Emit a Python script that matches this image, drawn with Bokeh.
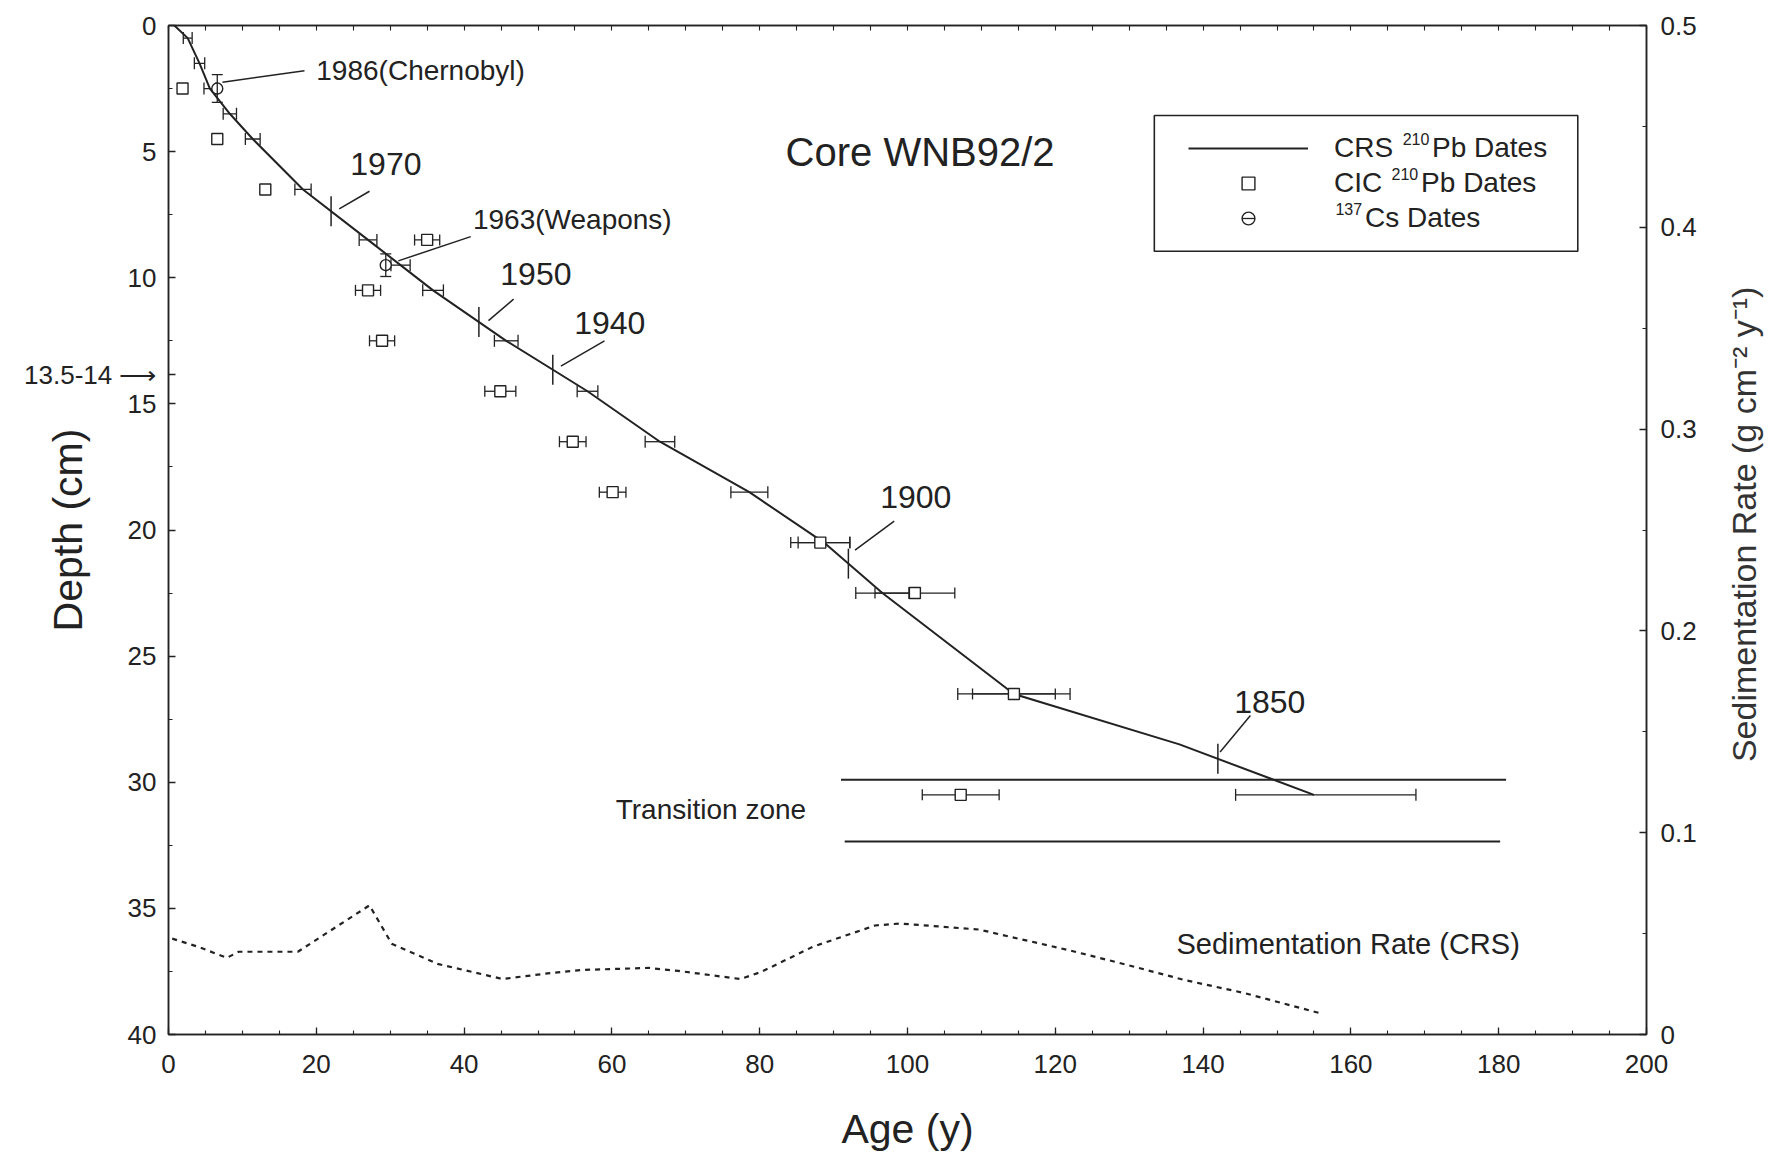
import numpy as np
from bokeh.plotting import figure
from bokeh.models import (Range1d, LinearAxis, FixedTicker, Whisker, TeeHead, ColumnDataSource,
                          Label, Legend, LegendItem, BoxAnnotation)
from bokeh.embed import file_html
from bokeh.resources import INLINE

# ---------------- data ----------------
CORE_YEAR = 1992

# CRS 210Pb dates (depth cm, age y, error bars)
crs_depth = [0.0, 0.5, 1.5, 2.5, 3.5, 4.5, 6.5, 8.5, 9.5, 10.5, 12.5, 14.5, 16.5, 18.5, 20.5, 22.5, 26.5, 28.5, 30.5]
crs_age = [0.8, 2.6, 4.2, 5.6, 8.3, 11.4, 18.2, 27.0, 31.4, 35.8, 45.7, 56.7, 66.5, 78.6, 88.7, 96.6, 114.4, 136.8, 155.0]
crs_err_lo = [0, 0.6, 0.7, 0.8, 0.9, 1.0, 1.1, 1.2, 1.3, 1.4, 1.6, 1.4, 2.0, 2.5, 3.5, 3.6, 7.6, 0, 10.6]
crs_err_hi = [0, 0.6, 0.7, 0.8, 0.9, 1.0, 1.1, 1.2, 1.3, 1.4, 1.6, 1.4, 2.0, 2.5, 3.5, 3.6, 7.6, 0, 13.8]

# CIC 210Pb dates
cic_depth = [2.5, 4.5, 6.5, 8.5, 10.5, 12.5, 14.5, 16.5, 18.5, 20.5, 22.5, 26.5, 30.5]
cic_age = [1.9, 6.6, 13.1, 35.0, 27.0, 28.9, 44.9, 54.7, 60.1, 88.2, 101.0, 114.4, 107.2]
cic_err = [0.3, 0.4, 0.5, 1.7, 1.7, 1.7, 2.1, 1.8, 1.8, 4.0, 5.4, 5.6, 5.2]

# 137Cs dates
cs_label = ["1986(Chernobyl)", "1963(Weapons)"]
cs_age = [6.6, 29.4]
cs_depth = [2.5, 9.5]
cs_derr = [0.55, 0.45]

# year markers on CRS curve
marker_years = [1970, 1950, 1940, 1900, 1850]

# CRS sedimentation rate (g cm-2 y-1)
sed_age = [0.5, 4.0, 7.9, 9.5, 17.5, 27.2, 30.2, 36.4, 45.2, 51.8, 56.0, 65.0, 69.0, 77.4, 80.2,
           87.2, 95.6, 99.0, 109.7, 114.4, 121.6, 129.5, 137.5, 145.4, 156.2]
sed_rate = [0.0475, 0.0435, 0.038, 0.041, 0.041, 0.064, 0.045, 0.035, 0.0275, 0.0305, 0.032, 0.033,
            0.0315, 0.0275, 0.031, 0.0435, 0.054, 0.055, 0.052, 0.048, 0.042, 0.0347, 0.027, 0.0207, 0.0102]

# transition zone limits (depth cm) and age extent
trans_depth = [29.9, 32.35]
trans_age0 = [91.0, 91.5]
trans_age1 = [181.0, 180.2]

# depth interval flagged on the left axis
flag_depth = 13.85
flag_text = "13.5-14 \u27f6"

x_ticks = [0, 20, 40, 60, 80, 100, 120, 140, 160, 180, 200]
y_ticks = [0, 5, 10, 15, 20, 25, 30, 35, 40]
rate_ticks = [0, 0.1, 0.2, 0.3, 0.4, 0.5]
rate_tick_labels = ["0", "0.1", "0.2", "0.3", "0.4", "0.5"]
rate_title = "Sedimentation Rate (g cm\u207b\u00b2 y\u207b\u00b9)"

# ---------------- figure ----------------
INK = "#222222"
FONT = "Liberation Sans"

p = figure(width=1789, height=1162, x_range=Range1d(0, 200), y_range=Range1d(40, 0),
           output_backend="svg", toolbar_location=None,
           min_border_left=168, min_border_right=143, min_border_top=25, min_border_bottom=128)
p.background_fill_color = "white"
p.border_fill_color = "white"
p.outline_line_color = INK
p.outline_line_width = 1.5
p.xgrid.visible = False
p.ygrid.visible = False
p.extra_y_ranges = {"rate": Range1d(0, 0.5)}


def style_axis(ax):
    ax.axis_line_color = INK
    ax.axis_line_width = 1.5
    ax.major_tick_line_color = INK
    ax.minor_tick_line_color = INK
    ax.major_tick_line_width = 1.3
    ax.minor_tick_line_width = 1.1
    ax.major_tick_in = 7
    ax.major_tick_out = 0
    ax.minor_tick_in = 4
    ax.minor_tick_out = 0
    ax.major_label_text_font = FONT
    ax.major_label_text_font_size = "26px"
    ax.major_label_text_color = INK
    ax.axis_label_text_font = FONT
    ax.axis_label_text_font_style = "normal"
    ax.axis_label_text_color = INK


xminor = list(np.arange(0, 201, 5))
xa = p.xaxis[0]
style_axis(xa)
xa.ticker = FixedTicker(ticks=x_ticks, minor_ticks=xminor)
xa.major_label_standoff = 20
xa.axis_label = "Age (y)"
xa.axis_label_text_font_size = "41px"
xa.axis_label_standoff = 30

ya = p.yaxis[0]
style_axis(ya)
ya.ticker = FixedTicker(ticks=y_ticks + [flag_depth], minor_ticks=list(np.arange(0, 40.1, 2.5)))
ov = {t: str(t) for t in y_ticks}
ov[flag_depth] = flag_text
ya.major_label_overrides = ov
ya.major_label_standoff = 12
ya.axis_label = "Depth (cm)"
ya.axis_label_text_font_size = "41px"
ya.axis_label_standoff = -70

ra = LinearAxis(y_range_name="rate")
style_axis(ra)
ra.ticker = FixedTicker(ticks=rate_ticks, minor_ticks=list(np.arange(0, 0.501, 0.05)))
ra.major_label_overrides = {t: s for t, s in zip(rate_ticks, rate_tick_labels)}
ra.major_label_standoff = 14
p.add_layout(ra, "right")

# right-hand title drawn as a single rotated label (reads bottom-to-top, starts at its anchor)
title_anchor = 0.135
rt = LinearAxis(y_range_name="rate")
rt.ticker = FixedTicker(ticks=[title_anchor], minor_ticks=[])
rt.major_label_overrides = {title_anchor: rate_title}
rt.major_label_orientation = np.pi / 2
rt.axis_line_color = None
rt.major_tick_line_color = None
rt.minor_tick_line_color = None
rt.major_tick_in = 0
rt.major_tick_out = 0
rt.major_label_standoff = 45
rt.major_label_text_font = FONT
rt.major_label_text_font_size = "34px"
rt.major_label_text_color = "#333333"
p.add_layout(rt, "right")

ta = LinearAxis()
style_axis(ta)
ta.ticker = FixedTicker(ticks=[], minor_ticks=xminor)
ta.minor_tick_in = 5
ta.major_label_standoff = 0
p.add_layout(ta, "above")

# ---------------- glyphs ----------------
crs_line = p.line(crs_age, crs_depth, line_color=INK, line_width=2)

sel = [i for i in range(len(crs_depth)) if crs_err_lo[i] > 0]
crs_wsrc = ColumnDataSource(dict(
    depth=[crs_depth[i] for i in sel],
    lo=[crs_age[i] - crs_err_lo[i] for i in sel],
    hi=[crs_age[i] + crs_err_hi[i] for i in sel]))
p.add_layout(Whisker(source=crs_wsrc, base="depth", lower="lo", upper="hi", dimension="width",
                     line_color=INK, line_width=1.3,
                     lower_head=TeeHead(size=12, line_color=INK, line_width=1.3),
                     upper_head=TeeHead(size=12, line_color=INK, line_width=1.3)))

csel = [i for i in range(len(cic_depth)) if cic_err[i] > 0.8]
cic_wsrc = ColumnDataSource(dict(
    depth=[cic_depth[i] for i in csel],
    lo=[cic_age[i] - cic_err[i] for i in csel],
    hi=[cic_age[i] + cic_err[i] for i in csel]))
p.add_layout(Whisker(source=cic_wsrc, base="depth", lower="lo", upper="hi", dimension="width",
                     line_color=INK, line_width=1.3,
                     lower_head=TeeHead(size=11, line_color=INK, line_width=1.3),
                     upper_head=TeeHead(size=11, line_color=INK, line_width=1.3)))
cic_r = p.scatter(cic_age, cic_depth, marker="square", size=11, fill_color="white",
                  line_color=INK, line_width=1.4)

cs_wsrc = ColumnDataSource(dict(age=cs_age,
                                lo=[d - e for d, e in zip(cs_depth, cs_derr)],
                                hi=[d + e for d, e in zip(cs_depth, cs_derr)]))
p.add_layout(Whisker(source=cs_wsrc, base="age", lower="lo", upper="hi", dimension="height",
                     line_color=INK, line_width=1.3,
                     lower_head=TeeHead(size=11, line_color=INK, line_width=1.3),
                     upper_head=TeeHead(size=11, line_color=INK, line_width=1.3)))
cs_circ = p.scatter(cs_age, cs_depth, marker="circle", size=11, fill_color="white",
                    line_color=INK, line_width=1.4)
cs_bar = p.scatter(cs_age, cs_depth, marker="dash", angle=np.pi / 2, size=13,
                   line_color=INK, line_width=1.3)

mk_age = [CORE_YEAR - y for y in marker_years]
mk_depth = list(np.interp(mk_age, crs_age, crs_depth))
p.scatter(mk_age, mk_depth, marker="dash", angle=np.pi / 2, size=30, line_color=INK, line_width=1.5)

p.line(sed_age, sed_rate, y_range_name="rate", line_color=INK, line_width=2.2, line_dash="5 5")

p.segment(trans_age0, trans_depth, trans_age1, trans_depth, line_color=INK, line_width=2)

# ---------------- annotations ----------------
callouts = [
    (cs_label[0], 20.0, 1.79, "28px", (7.3, 2.25, 18.4, 1.79)),
    ("1970", 24.6, 5.5, "32px", (23.1, 7.27, 27.2, 6.57)),
    (cs_label[1], 41.2, 7.7, "28px", (31.1, 9.33, 40.9, 8.37)),
    ("1950", 44.9, 9.85, "32px", (43.3, 11.7, 46.7, 10.85)),
    ("1940", 54.9, 11.8, "32px", (53.1, 13.5, 59.0, 12.5)),
    ("1900", 96.3, 18.7, "32px", (92.9, 20.8, 98.2, 19.65)),
    ("1850", 144.2, 26.8, "32px", (142.3, 28.8, 146.4, 27.35)),
]
lx0, ly0, lx1, ly1 = [], [], [], []
for txt, x, y, fs, (a0, b0, a1, b1) in callouts:
    p.add_layout(Label(x=x, y=y, text=txt, text_align="left", text_baseline="middle",
                       text_font=FONT, text_font_size=fs, text_color=INK))
    lx0.append(a0); ly0.append(b0); lx1.append(a1); ly1.append(b1)
p.segment(lx0, ly0, lx1, ly1, line_color=INK, line_width=1.5)

p.add_layout(Label(x=101.7, y=5.03, text="Core WNB92/2", text_align="center", text_baseline="middle",
                   text_font=FONT, text_font_size="40px", text_color=INK))
p.add_layout(Label(x=73.4, y=31.1, text="Transition zone", text_align="center", text_baseline="middle",
                   text_font=FONT, text_font_size="28px", text_color=INK))
p.add_layout(Label(x=136.4, y=36.4, text="Sedimentation Rate (CRS)", text_align="left",
                   text_baseline="middle", text_font=FONT, text_font_size="29px", text_color=INK))

# ---------------- legend ----------------
p.add_layout(BoxAnnotation(left=133.4, right=190.7, top=3.57, bottom=8.95, fill_alpha=0,
                           line_color=INK, line_width=1.6, line_alpha=1))
NB = "\u00a0"
legend = Legend(items=[LegendItem(label="CRS" + NB * 5 + "Pb Dates", renderers=[crs_line]),
                       LegendItem(label="CIC" + NB * 5 + "Pb Dates", renderers=[cic_r]),
                       LegendItem(label=NB * 4 + "Cs Dates", renderers=[cs_circ, cs_bar])],
                location=(1020, 800), glyph_width=120, glyph_height=32, label_height=32,
                label_standoff=26, spacing=3, padding=0, margin=0, border_line_color=None,
                background_fill_alpha=0, label_text_font=FONT, label_text_font_size="28px",
                label_text_color=INK)
p.add_layout(legend)

# superscript mass numbers in the legend
sups = [("210", 167.0, 4.86), ("210", 165.5, 6.25), ("137", 157.9, 7.64)]
for s, x, y in sups:
    p.add_layout(Label(x=x, y=y - 0.36, text=s, text_align="left", text_baseline="middle",
                       text_font=FONT, text_font_size="16px", text_color=INK))

open("out.html", "w").write(file_html(p, INLINE))
